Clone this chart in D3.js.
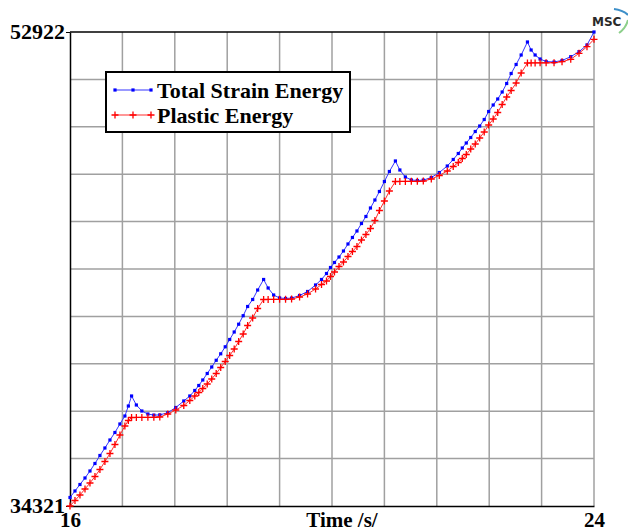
<!DOCTYPE html>
<html lang="en">
<head>
  <meta charset="UTF-8">
  <title>Total Strain Energy - Plastic Energy</title>
  <script src="https://d3js.org/d3.v7.min.js"></script>
  <style>
    body {
      margin: 0;
      background: #fff;
    }
    svg { display: block; }
    .lbl {
      font: bold 22px "Liberation Serif", "Times New Roman", serif;
      fill: #000;
    }
    .lbl.bot { font-size: 21px; }
    .grid line {
      stroke: #a0a0a0;
      stroke-width: 1.5;
    }
  </style>
</head>
<body>
<script>
// time steps (s) shared by both curves
const time = [
  16.000, 16.076, 16.152, 16.229, 16.305, 16.381, 16.457, 16.533, 16.610, 16.686,
  16.762, 16.838, 16.891, 16.940, 17.013, 17.097, 17.189, 17.280, 17.371, 17.493,
  17.615, 17.737, 17.829, 17.905, 17.966, 18.027, 18.095, 18.164, 18.232, 18.301,
  18.370, 18.438, 18.507, 18.575, 18.644, 18.712, 18.789, 18.865, 18.956, 19.025,
  19.109, 19.200, 19.291, 19.383, 19.505, 19.627, 19.749, 19.840, 19.916, 19.977,
  20.038, 20.107, 20.175, 20.244, 20.312, 20.381, 20.450, 20.518, 20.587, 20.655,
  20.724, 20.800, 20.876, 20.968, 21.036, 21.120, 21.211, 21.303, 21.394, 21.516,
  21.638, 21.760, 21.851, 21.928, 21.989, 22.050, 22.118, 22.187, 22.255, 22.324,
  22.392, 22.461, 22.530, 22.598, 22.667, 22.735, 22.811, 22.888, 22.984, 23.040,
  23.101, 23.177, 23.269, 23.390, 23.512, 23.645, 23.771, 23.893, 24.000
];

const totalStrain = [
  34655, 34910, 35165, 35420, 35695, 35989, 36303, 36597, 36911, 37205,
  37539, 37853, 38245, 38638, 38285, 38049, 37931, 37888, 37896, 37982,
  38186, 38442, 38638, 38854, 39050, 39266, 39521, 39776, 40039, 40294,
  40568, 40855, 41149, 41455, 41789, 42150, 42425, 42797, 43210, 42876,
  42601, 42484, 42464, 42480, 42582, 42739, 42994, 43210, 43445, 43680,
  43877, 44092, 44328, 44603, 44858, 45113, 45407, 45682, 46015, 46329,
  46663, 47055, 47448, 47860, 47507, 47232, 47114, 47094, 47110, 47212,
  47408, 47663, 47919, 48154, 48370, 48566, 48782, 49017, 49233, 49488,
  49802, 50057, 50293, 50567, 50901, 51293, 51647, 52019, 52530, 52216,
  52019, 51862, 51764, 51745, 51804, 51953, 52149, 52412, 52922
];

const plastic = [
  34321, 34537, 34753, 34988, 35224, 35479, 35753, 36067, 36381, 36734,
  37107, 37460, 37676, 37794, 37796, 37798, 37800, 37802, 37814, 37931,
  38088, 38265, 38461, 38638, 38775, 38932, 39109, 39305, 39521, 39756,
  39992, 40227, 40482, 40776, 41071, 41404, 41699, 42071, 42425, 42427,
  42429, 42431, 42433, 42440, 42523, 42640, 42837, 43013, 43151, 43327,
  43504, 43720, 43896, 44112, 44308, 44504, 44760, 44975, 45211, 45525,
  45917, 46290, 46682, 47055, 47057, 47059, 47061, 47063, 47070, 47153,
  47291, 47467, 47644, 47801, 47958, 48115, 48331, 48527, 48762, 48998,
  49272, 49508, 49763, 50077, 50371, 50626, 50921, 51313, 51706, 51708,
  51710, 51712, 51714, 51717, 51756, 51851, 52085, 52345, 52636
];

const seriesNames = ["Total Strain Energy", "Plastic Energy"];
const yTicks = [34321, 52922];
const xTicks = [16, 24];
const xTitle = "Time /s/";

const W = 628, H = 532;
const box = { left: 70, right: 594, top: 32, bottom: 506 };

const svg = d3.select("body").append("svg")
  .attr("width", W)
  .attr("height", H);

const x = d3.scaleLinear().domain(d3.extent(xTicks)).range([box.left, box.right]);
const y = d3.scaleLinear().domain(d3.extent(yTicks)).range([box.bottom, box.top]);

// 10 grid divisions on each axis
const xGrid = d3.range(11).map(i => x.invert(box.left + i * (box.right - box.left) / 10));
const yGrid = d3.range(11).map(i => y.invert(box.bottom - i * (box.bottom - box.top) / 10));

const grid = svg.append("g").attr("class", "grid");
grid.selectAll(".v").data(xGrid.slice(1)).join("line")
  .attr("x1", d => x(d)).attr("x2", d => x(d))
  .attr("y1", box.top).attr("y2", box.bottom);
grid.selectAll(".h").data(yGrid.slice(1, -1)).join("line")
  .attr("x1", box.left).attr("x2", box.right)
  .attr("y1", d => y(d)).attr("y2", d => y(d));

// top frame line
svg.append("line")
  .attr("x1", box.left).attr("x2", box.right)
  .attr("y1", box.top).attr("y2", box.top)
  .attr("stroke", "#000").attr("stroke-width", 1.5);

// axes
const yAxis = svg.append("g")
  .attr("transform", `translate(${box.left},0)`)
  .call(d3.axisLeft(y).tickValues(yTicks).tickFormat(d3.format("d")).tickSize(4).tickSizeOuter(0).tickPadding(1));
const xAxis = svg.append("g")
  .attr("transform", `translate(0,${box.bottom})`)
  .call(d3.axisBottom(x).tickValues(xTicks).tickFormat(d3.format("d")).tickSize(0).tickSizeOuter(0).tickPadding(6));

[yAxis, xAxis].forEach(a => {
  a.select(".domain").attr("stroke", "#000").attr("stroke-width", 1.5);
  a.selectAll(".tick line").attr("stroke", "#000");
  a.selectAll("text").attr("class", "lbl").attr("font-size", null).attr("font-family", null);
});
yAxis.selectAll("text").attr("dy", "0.3em");
xAxis.selectAll("text").attr("class", "lbl bot");

svg.append("text")
  .attr("class", "lbl bot")
  .attr("x", 342)
  .attr("y", 527)
  .attr("text-anchor", "middle")
  .text(xTitle);

// curves
const pts = arr => time.map((t, i) => [x(t), y(arr[i])]);
const line = d3.line();

const blueG = svg.append("g");
blueG.append("path")
  .attr("d", line(pts(totalStrain)))
  .attr("fill", "none")
  .attr("stroke", "#3535ff")
  .attr("stroke-width", 1);
blueG.selectAll("rect").data(pts(totalStrain)).join("rect")
  .attr("x", d => d[0] - 1.6).attr("y", d => d[1] - 1.6)
  .attr("width", 3.2).attr("height", 3.2)
  .attr("fill", "#0000ff");

const plus = (cx, cy, r) => `M${cx - r},${cy}H${cx + r}M${cx},${cy - r}V${cy + r}`;

const redG = svg.append("g");
redG.append("path")
  .attr("d", line(pts(plastic)))
  .attr("fill", "none")
  .attr("stroke", "#ff3030")
  .attr("stroke-width", 1);
redG.append("path")
  .attr("d", pts(plastic).map(d => plus(d[0], d[1], 3.5)).join(""))
  .attr("fill", "none")
  .attr("stroke", "#ff0000")
  .attr("stroke-width", 1.3);

// legend
const legend = svg.append("g");
legend.append("rect")
  .attr("x", 106).attr("y", 72)
  .attr("width", 244).attr("height", 60)
  .attr("fill", "#fff")
  .attr("stroke", "#000")
  .attr("stroke-width", 2);

const rows = [
  { name: seriesNames[0], color: "#3535ff", mark: "sq", y: 90 },
  { name: seriesNames[1], color: "#ff3030", mark: "plus", y: 115 }
];
rows.forEach(r => {
  legend.append("line")
    .attr("x1", 115).attr("x2", 151)
    .attr("y1", r.y).attr("y2", r.y)
    .attr("stroke", r.color).attr("stroke-width", 1.2);
  [115, 133, 151].forEach(mx => {
    if (r.mark === "sq") {
      legend.append("rect")
        .attr("x", mx - 1.6).attr("y", r.y - 1.6)
        .attr("width", 3.2).attr("height", 3.2)
        .attr("fill", "#0000ff");
    } else {
      legend.append("path")
        .attr("d", plus(mx, r.y, 3.5))
        .attr("stroke", "#ff0000").attr("stroke-width", 1.3);
    }
  });
  legend.append("text")
    .attr("class", "lbl")
    .attr("x", 157)
    .attr("y", r.y + 7.5)
    .text(r.name);
});

// MSC mark, top right
const logo = svg.append("g");
logo.append("text")
  .attr("x", 592).attr("y", 26)
  .attr("font-family", "DejaVu Sans, sans-serif")
  .attr("font-weight", "bold")
  .attr("font-size", 12)
  .attr("fill", "#2a2a2a")
  .text("MSC");
logo.append("path")
  .attr("d", "M614,9 Q623,10 628,15")
  .attr("fill", "none").attr("stroke", "#3d8fc9").attr("stroke-width", 2);
logo.append("path")
  .attr("d", "M619,33 Q626,28 628,20")
  .attr("fill", "none").attr("stroke", "#8ccf8a").attr("stroke-width", 2);
</script>
</body>
</html>
